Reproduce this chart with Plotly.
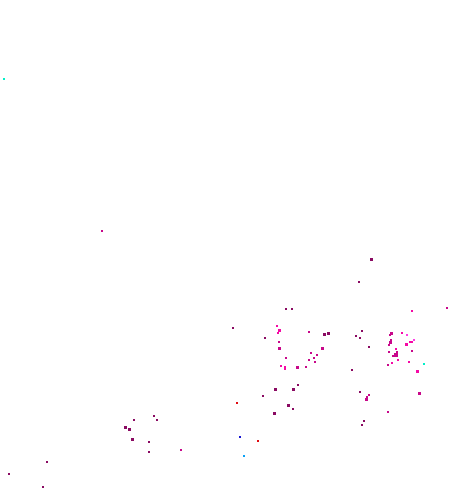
import plotly.graph_objects as go

# Point positions (x to the right, y downward), group and size
x_vals = [4, 102,
          154, 134, 125, 129, 132, 149, 149, 47, 9, 43,
          286, 292, 233, 277, 279, 278, 309, 265, 279, 279, 286, 309, 281, 285, 285, 297, 306,
          298, 275, 293, 263, 237, 288, 293, 274, 157, 240, 258, 181, 244,
          371, 359, 412, 447, 324, 328, 362, 356, 360, 369, 322, 311, 314, 317, 315, 352,
          391, 390, 402, 407, 390, 391, 389, 406, 410, 412, 414, 396, 397, 389, 396, 393,
          412, 398, 392, 388, 409, 424, 417, 360, 369, 367, 366, 419, 388, 364, 362]
y_vals = [79, 231,
          416, 420, 427, 429, 439, 442, 452, 462, 474, 487,
          309, 309, 328, 326, 330, 333, 332, 338, 342, 348, 358, 360, 366, 367, 369, 367, 367,
          385, 389, 389, 396, 403, 405, 409, 413, 420, 437, 441, 450, 456,
          259, 282, 311, 308, 334, 333, 331, 336, 338, 347, 348, 353, 358, 355, 362, 370,
          333, 335, 333, 335, 342, 340, 345, 344, 342, 342, 340, 349, 352, 352, 355, 356,
          351, 360, 363, 365, 362, 364, 371, 392, 395, 397, 399, 393, 412, 421, 425]
groups = ["cyan", "magenta",
          "purple", "purple", "purple", "purple", "purple", "purple", "purple", "purple", "purple", "purple",
          "purple", "purple", "purple", "pink", "pink", "pink", "magenta", "purple", "magenta", "magenta", "magenta", "magenta", "pink", "pink", "pink", "magenta", "magenta",
          "purple", "purple", "purple", "purple", "red", "purple", "purple", "purple", "purple", "blue", "red", "magenta", "lightblue",
          "purple", "purple", "pink", "magenta", "purple", "purple", "purple", "purple", "purple", "purple", "magenta", "magenta", "magenta", "magenta", "magenta", "purple",
          "magenta", "magenta", "pink", "light", "magenta", "magenta", "magenta", "pink", "pink", "pink", "light", "pink", "magenta", "magenta", "magenta", "magenta",
          "magenta", "pink", "pink", "magenta", "pink", "cyan", "pink", "purple", "magenta", "magenta", "magenta", "magenta", "magenta", "purple", "purple"]
sizes = [2, 2,
         2, 2, 3, 3, 3, 2, 2, 2, 2, 2,
         2, 2, 2, 2, 3, 2, 2, 2, 2, 3, 2, 2, 2, 2, 2, 3, 2,
         2, 3, 3, 2, 2, 3, 2, 3, 2, 2, 2, 2, 2,
         3, 2, 2, 2, 3, 3, 2, 2, 2, 2, 3, 2, 2, 2, 2, 2,
         3, 2, 2, 2, 3, 2, 2, 3, 2, 2, 2, 2, 2, 2, 4, 2,
         2, 2, 2, 2, 2, 2, 3, 2, 2, 2, 3, 3, 2, 2, 2]

palette = {
    "purple": "#8a0a62",
    "magenta": "#c8088a",
    "pink": "#f50aa5",
    "light": "#ff3ce6",
    "cyan": "#00f0c8",
    "blue": "#1414d2",
    "lightblue": "#0aa0f5",
    "red": "#e00a10",
}

fig = go.Figure()
for g, col in palette.items():
    idx = [i for i, gg in enumerate(groups) if gg == g]
    fig.add_trace(go.Scatter(
        x=[x_vals[i] for i in idx],
        y=[y_vals[i] for i in idx],
        mode="markers",
        marker=dict(symbol="square", size=[sizes[i] for i in idx], color=col,
                    opacity=1, line=dict(width=0)),
        showlegend=False,
        hoverinfo="skip",
        cliponaxis=False,
    ))

fig.update_layout(
    width=465, height=488,
    margin=dict(l=0, r=0, t=0, b=0),
    paper_bgcolor="white", plot_bgcolor="white",
    xaxis=dict(range=[0, 465], visible=False, showgrid=False, zeroline=False),
    yaxis=dict(range=[488, 0], visible=False, showgrid=False, zeroline=False),
)

post = ("document.body.style.margin='0';"
        "document.querySelectorAll('.point').forEach(function(p){p.setAttribute('shape-rendering','crispEdges');});")
fig.write_html("out.html", post_script=post, config={"displayModeBar": False})
